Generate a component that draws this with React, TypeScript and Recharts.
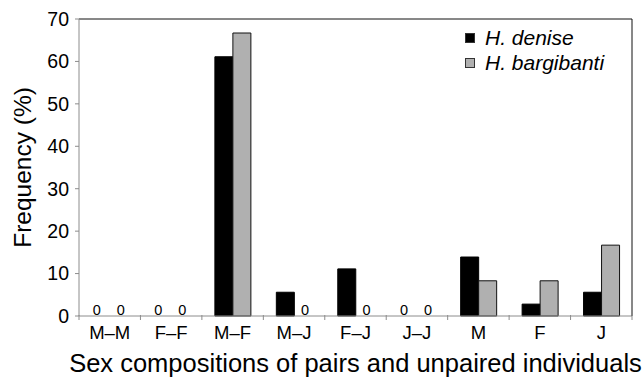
import { Bar, BarChart, Legend, XAxis, YAxis } from "recharts";

const categories = ["M–M", "F–F", "M–F", "M–J", "F–J", "J–J", "M", "F", "J"];
const denise = [0, 0, 61.1, 5.6, 11.1, 0, 13.9, 2.8, 5.6];
const bargibanti = [0, 0, 66.7, 0, 0, 0, 8.3, 8.3, 16.7];
const yTicks = [0, 10, 20, 30, 40, 50, 60, 70];

const data = categories.map((cat, i) => ({ cat, denise: denise[i], bargibanti: bargibanti[i] }));

const FONT = "'Liberation Sans', Arial, Helvetica, sans-serif";
const AXIS_GREY = "#8c8c8c";
const BAR_SIZE = 18;

// category label, a small tick at the band edges, and "0" over the empty bars
function CatTick(props: any) {
  const { x, y, payload, index, width, visibleTicksCount } = props;
  let half = Number(payload?.offset);
  if (!half) half = Number(width) / Number(visibleTicksCount || categories.length) / 2;
  const axisY = y - 3;
  const zeros = [
    { v: denise[index], cx: x - BAR_SIZE / 2 - 4 },
    { v: bargibanti[index], cx: x + BAR_SIZE / 2 + 2 },
  ];
  return (
    <g>
      <line x1={x - half} x2={x - half} y1={axisY - 1} y2={axisY + 4} stroke={AXIS_GREY} />
      {index === categories.length - 1 && (
        <line x1={x + half} x2={x + half} y1={axisY - 1} y2={axisY + 4} stroke={AXIS_GREY} />
      )}
      {zeros.map((z, k) =>
        z.v === 0 ? (
          <text key={k} x={z.cx} y={axisY - 1} textAnchor="middle" fontSize={14.5} fontFamily={FONT} fill="#000">
            0
          </text>
        ) : null
      )}
      <text x={x} y={y + 7} dy="0.71em" textAnchor="middle" fontSize={18.5} fontFamily={FONT} fill="#000">
        {payload.value}
      </text>
    </g>
  );
}

function LegendBox() {
  const items = [
    { name: "H. denise", color: "#000" },
    { name: "H. bargibanti", color: "#b0b0b0" },
  ];
  return (
    <div style={{ fontFamily: FONT, fontSize: 21, fontStyle: "italic", lineHeight: "25px" }}>
      {items.map((it) => (
        <div key={it.name} style={{ display: "flex", alignItems: "center" }}>
          <span
            style={{
              display: "inline-block",
              width: 8,
              height: 8,
              background: it.color,
              border: "1px solid #333",
              marginRight: 10,
            }}
          />
          {it.name}
        </div>
      ))}
    </div>
  );
}

export default function App() {
  return (
    <div style={{ position: "absolute", left: 0, top: 0 }}>
      <BarChart
        width={643}
        height={378}
        data={data}
        margin={{ top: 18, right: 10, bottom: 0, left: 0 }}
        barGap={0}
        barSize={BAR_SIZE}
      >
        <XAxis xAxisId="top" orientation="top" dataKey="cat" height={1} tick={false} tickLine={false} stroke="#111" />
        <XAxis
          xAxisId="cat"
          dataKey="cat"
          height={62}
          tickLine={false}
          tickSize={0}
          tickMargin={3}
          stroke={AXIS_GREY}
          interval={0}
          tick={<CatTick />}
          label={{
            value: "Sex compositions of pairs and unpaired individuals",
            position: "insideBottom",
            offset: 6,
            fill: "#000",
            fontSize: 25.5,
            fontFamily: FONT,
          }}
        />
        <YAxis
          yAxisId="left"
          domain={[0, 70]}
          ticks={yTicks}
          width={79}
          stroke={AXIS_GREY}
          tickSize={4}
          tickMargin={6}
          tick={{ fill: "#000", fontSize: 19.5, fontFamily: FONT }}
          label={{
            value: "Frequency (%)",
            angle: -90,
            position: "insideLeft",
            offset: 22,
            style: { textAnchor: "middle" },
            fill: "#000",
            fontSize: 24.5,
            fontFamily: FONT,
          }}
        />
        <YAxis yAxisId="right" orientation="right" width={1} tick={false} tickLine={false} stroke="#111" />
        <Legend
          layout="vertical"
          verticalAlign="middle"
          align="center"
          wrapperStyle={{ top: 25, left: 465, width: 170 }}
          content={() => <LegendBox />}
        />
        <Bar xAxisId="cat" yAxisId="left" dataKey="denise" fill="#000" stroke="#000" isAnimationActive={false} />
        <Bar xAxisId="cat" yAxisId="left" dataKey="bargibanti" fill="#b0b0b0" stroke="#111" isAnimationActive={false} />
      </BarChart>
    </div>
  );
}
